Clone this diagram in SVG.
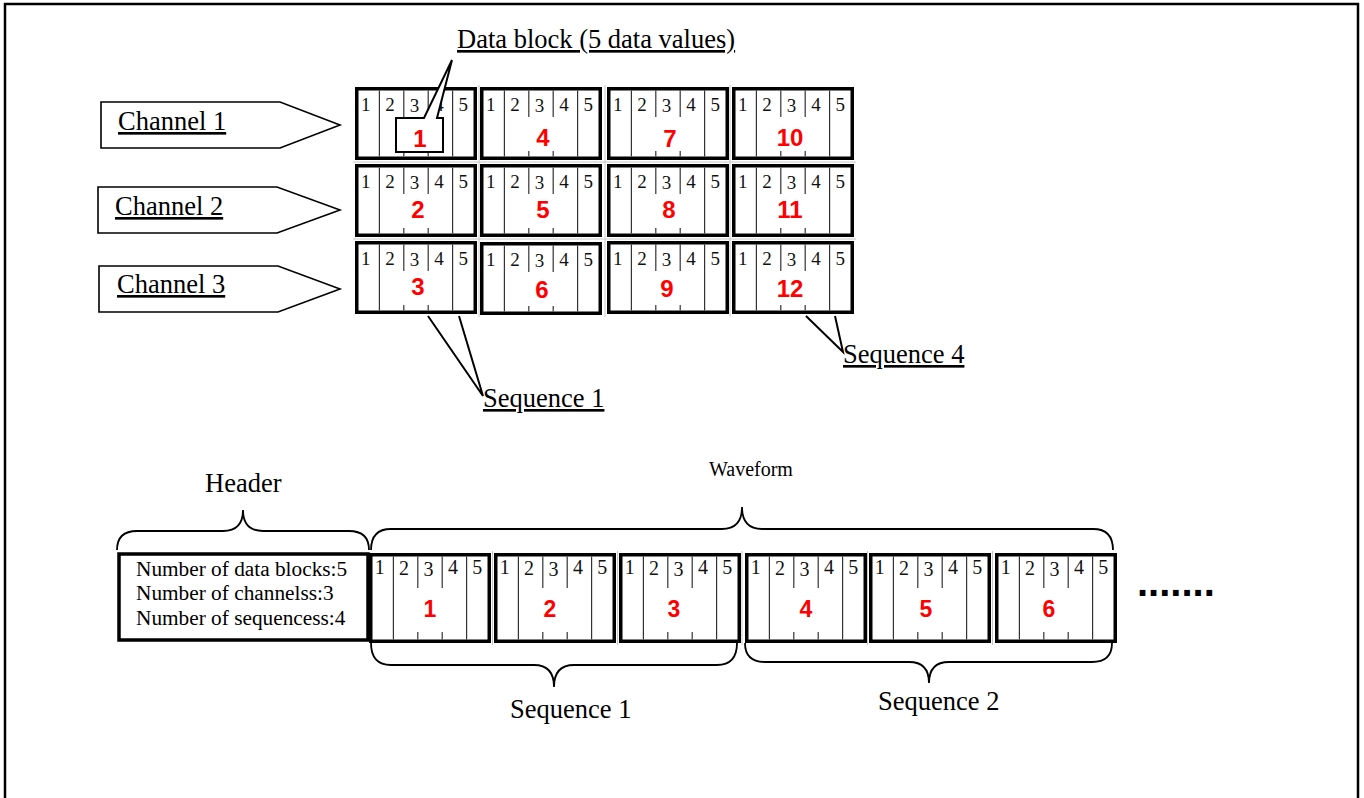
<svg xmlns="http://www.w3.org/2000/svg" xmlns:xlink="http://www.w3.org/1999/xlink" width="1364" height="798" viewBox="0 0 1364 798">
<style>
.lbl{font-family:"Liberation Serif","Times New Roman",serif;font-size:26.5px;fill:#000}
.ul{text-decoration:underline}
.dg{font-family:"Liberation Serif","Times New Roman",serif;fill:#111;text-anchor:middle}
.num{font-family:"Liberation Sans",Arial,sans-serif;font-weight:bold;fill:#ff0000;text-anchor:middle}
.blk{fill:#fff;stroke:#000;stroke-width:3.5}
.div{stroke:#333;stroke-width:1.2}
.con{fill:none;stroke:#000;stroke-width:2}
.brace{fill:none;stroke:#000;stroke-width:1.8}
.arrow{fill:#fff;stroke:#000;stroke-width:1.6}
.grid{stroke:#c8c8c8;stroke-width:1;fill:none}
</style>
<defs>
<g id="tb">
<rect class="blk" x="1.75" y="1.75" width="118.5" height="69.5"/>
<line class="div" x1="24.4" y1="3.5" x2="24.4" y2="69.5"/>
<line class="div" x1="48.8" y1="3.5" x2="48.8" y2="30"/>
<line class="div" x1="48.8" y1="64" x2="48.8" y2="69.5"/>
<line class="div" x1="73.2" y1="3.5" x2="73.2" y2="30"/>
<line class="div" x1="73.2" y1="64" x2="73.2" y2="69.5"/>
<line class="div" x1="97.6" y1="3.5" x2="97.6" y2="69.5"/>
<g class="dg" font-size="19">
<text x="10.7" y="24">1</text><text x="35.1" y="24">2</text><text x="59.5" y="25">3</text><text x="83.9" y="24">4</text><text x="108.3" y="24">5</text>
</g>
</g>
<g id="bb">
<rect class="blk" x="1.75" y="1.75" width="118.5" height="86.5"/>
<line class="div" x1="24.4" y1="3.5" x2="24.4" y2="86.5"/>
<line class="div" x1="48.8" y1="3.5" x2="48.8" y2="35"/>
<line class="div" x1="48.8" y1="79" x2="48.8" y2="86.5"/>
<line class="div" x1="73.2" y1="3.5" x2="73.2" y2="35"/>
<line class="div" x1="73.2" y1="79" x2="73.2" y2="86.5"/>
<line class="div" x1="97.6" y1="3.5" x2="97.6" y2="86.5"/>
<g class="dg" font-size="20">
<text x="10.7" y="21">1</text><text x="35.1" y="22">2</text><text x="59.5" y="23">3</text><text x="83.9" y="21">4</text><text x="108.3" y="21">5</text>
</g>
</g>
</defs>

<rect x="5" y="4" width="1353" height="820" fill="none" stroke="#000" stroke-width="2.5"/>

<!-- faint grid lines -->
<g class="grid">
<line x1="353" y1="162" x2="856" y2="162"/>
<line x1="353" y1="239" x2="856" y2="239"/>
<line x1="479" y1="85" x2="479" y2="317"/>
<line x1="605" y1="85" x2="605" y2="317"/>
<line x1="730" y1="85" x2="730" y2="317"/>
<line x1="492.5" y1="551" x2="492.5" y2="645"/>
<line x1="617.5" y1="551" x2="617.5" y2="645"/>
<line x1="742" y1="551" x2="742" y2="645"/>
<line x1="867.5" y1="551" x2="867.5" y2="645"/>
<line x1="992.5" y1="551" x2="992.5" y2="645"/>
</g>

<!-- channel arrows -->
<g id="channel1"><polygon class="arrow" points="101,102 280,102 340,125 280,148 101,148"/><text class="lbl ul" x="118" y="130">Channel 1</text></g>
<g id="channel2"><polygon class="arrow" points="98,187 277,187 340,210 277,233 98,233"/><text class="lbl ul" x="115" y="215">Channel 2</text></g>
<g id="channel3"><polygon class="arrow" points="99,266 278,266 340,289 278,312 99,312"/><text class="lbl ul" x="117" y="293">Channel 3</text></g>

<!-- top grid blocks -->
<g id="tblock1"><use xlink:href="#tb" x="355" y="87"/></g>
<g id="tblock4"><use xlink:href="#tb" x="480" y="87"/><text class="num" font-size="24" x="543" y="146">4</text></g>
<g id="tblock7"><use xlink:href="#tb" x="607" y="87"/><text class="num" font-size="24" x="670" y="147">7</text></g>
<g id="tblock10"><use xlink:href="#tb" x="732" y="87"/><text class="num" font-size="24" x="790" y="146">10</text></g>
<g id="tblock2"><use xlink:href="#tb" x="355" y="164"/><text class="num" font-size="24" x="418" y="218">2</text></g>
<g id="tblock5"><use xlink:href="#tb" x="480" y="164"/><text class="num" font-size="24" x="543" y="218">5</text></g>
<g id="tblock8"><use xlink:href="#tb" x="607" y="164"/><text class="num" font-size="24" x="669" y="218">8</text></g>
<g id="tblock11"><use xlink:href="#tb" x="732" y="164"/><text class="num" font-size="24" x="790" y="218">11</text></g>
<g id="tblock3"><use xlink:href="#tb" x="355" y="241"/><text class="num" font-size="24" x="418" y="295">3</text></g>
<g id="tblock6"><use xlink:href="#tb" x="480" y="242"/><text class="num" font-size="24" x="542" y="298">6</text></g>
<g id="tblock9"><use xlink:href="#tb" x="607" y="241"/><text class="num" font-size="24" x="667" y="297">9</text></g>
<g id="tblock12"><use xlink:href="#tb" x="732" y="241"/><text class="num" font-size="24" x="790" y="297">12</text></g>

<!-- connectors -->
<g id="connectors">
<path d="M396,118 H424 L452,60 L437,118 H443 V152 H396 Z" fill="#fff" stroke="#000" stroke-width="2"/>
<polyline class="con" points="428,316 483,396 459,316"/>
<polyline class="con" points="806,316 843,352 835,316"/>
<path class="brace" d="M117,550 Q117,531 137,531 H223 Q243,531 243,510 Q243,531 263,531 H349 Q369,531 369,550"/>
<path class="brace" d="M371,550 Q371,529 391,529 H722 Q742,529 742,507 Q742,529 762,529 H1093 Q1113,529 1113,550"/>
<path class="brace" d="M371,643 Q371,665 391,665 H534 Q554,665 554,687 Q554,665 574,665 H717 Q737,665 737,643"/>
<path class="brace" d="M745,643 Q745,662 765,662 H909 Q929,662 929,683 Q929,662 949,662 H1092 Q1112,662 1112,643"/>
</g>

<g id="callout-label"><text class="num" font-size="24" x="420" y="147">1</text></g>
<g id="datablock-label"><text class="lbl ul" x="457" y="48">Data block (5 data values)</text></g>
<g id="seq1-top-label"><text class="lbl ul" x="483" y="407">Sequence 1</text></g>
<g id="seq4-label"><text class="lbl ul" x="843" y="363">Sequence 4</text></g>

<!-- bottom -->
<g id="header">
<rect x="119" y="554" width="249" height="86" fill="#fff" stroke="#000" stroke-width="3.5"/>
<g font-family="Liberation Serif, Times New Roman, serif" font-size="21.3">
<text x="136" y="576">Number of data blocks:5</text>
<text x="136" y="600">Number of channelss:3</text>
<text x="136" y="625">Number of sequencess:4</text>
</g>
</g>
<g id="bblock1"><use xlink:href="#bb" x="369" y="553"/><text class="num" font-size="23" x="430" y="617">1</text></g>
<g id="bblock2"><use xlink:href="#bb" x="494" y="553"/><text class="num" font-size="23" x="550" y="617">2</text></g>
<g id="bblock3"><use xlink:href="#bb" x="619" y="553"/><text class="num" font-size="23" x="674" y="617">3</text></g>
<g id="bblock4"><use xlink:href="#bb" x="745" y="553"/><text class="num" font-size="23" x="806" y="617">4</text></g>
<g id="bblock5"><use xlink:href="#bb" x="869" y="553"/><text class="num" font-size="23" x="926" y="617">5</text></g>
<g id="bblock6"><use xlink:href="#bb" x="995" y="553"/><text class="num" font-size="23" x="1049" y="617">6</text></g>

<g id="header-label"><text class="lbl" x="205" y="492">Header</text></g>
<g id="waveform-label"><text class="lbl" x="709" y="476" style="font-size:20px">Waveform</text></g>
<g id="seq1-bottom-label"><text class="lbl" x="510" y="718">Sequence 1</text></g>
<g id="seq2-label"><text class="lbl" x="878" y="710">Sequence 2</text></g>
<g id="dots"><text x="1137" y="596" font-family="Liberation Sans, Arial, sans-serif" font-weight="bold" font-size="40" letter-spacing="0">.......</text></g>
</svg>
